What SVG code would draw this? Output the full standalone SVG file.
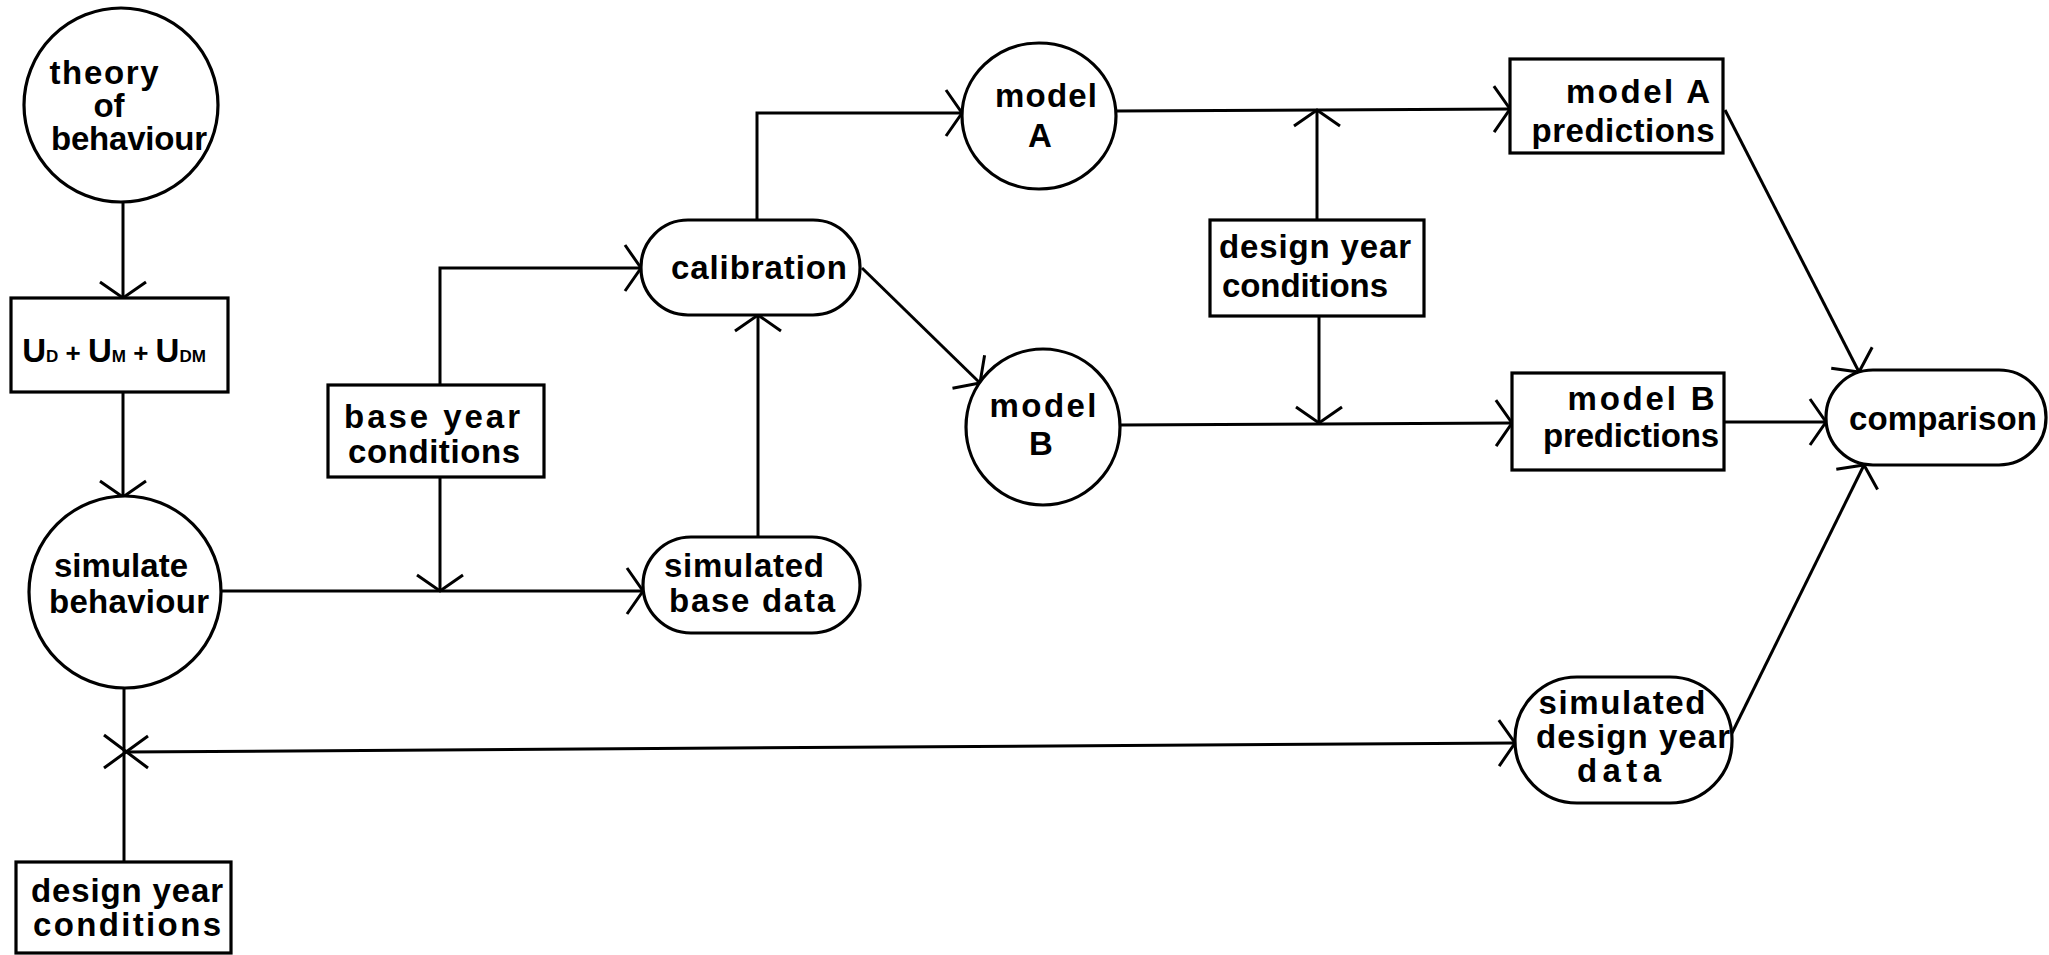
<svg xmlns="http://www.w3.org/2000/svg" width="2049" height="955" viewBox="0 0 2049 955">
<style>
.s{fill:#fff;stroke:#000;stroke-width:3.2}
.c{fill:none;stroke:#000;stroke-width:3}
.t{font-family:"Liberation Sans",Arial,sans-serif;font-size:33px;font-weight:bold;fill:#000;text-anchor:middle}
</style>
<defs>
<marker id="arr" markerUnits="userSpaceOnUse" orient="auto" viewBox="-30 -30 40 60" markerWidth="40" markerHeight="60" refX="0" refY="0">
<path d="M-16,-23 L0,0 L-16,23" fill="none" stroke="#000" stroke-width="3"/>
</marker>
</defs>
<rect width="2049" height="955" fill="#fff"/>
<g id="connectors" class="c">
<path d="M123,202 V298" marker-end="url(#arr)"/>
<path d="M123,392 V497" marker-end="url(#arr)"/>
<path d="M221,591 H643" marker-end="url(#arr)"/>
<path d="M440,477 V591" marker-end="url(#arr)"/>
<path d="M440,385 V268 H641" marker-end="url(#arr)"/>
<path d="M758,537 V315" marker-end="url(#arr)"/>
<path d="M757,220 V113 H962" marker-end="url(#arr)"/>
<path d="M862,268 L980,383" marker-end="url(#arr)"/>
<path d="M1116,111 L1510,109" marker-end="url(#arr)"/>
<path d="M1317,220 V110" marker-end="url(#arr)"/>
<path d="M1319,316 V423" marker-end="url(#arr)"/>
<path d="M1120,425 L1512,423" marker-end="url(#arr)"/>
<path d="M1725,110 L1859,372" marker-end="url(#arr)"/>
<path d="M1725,422 H1826" marker-end="url(#arr)"/>
<path d="M1732,733 L1864,465" marker-end="url(#arr)"/>
<path d="M124,688 V862"/>
<path d="M124,752 L1515,743" marker-end="url(#arr)"/>
<path d="M104,735 L148,768 M104,768 L148,736"/>
</g>
<g id="theory">
<ellipse class="s" cx="121" cy="105" rx="97" ry="97"/>
<text class="t" font-size="29" x="104" y="84" textLength="109">theory</text>
<text class="t" font-size="29" x="109" y="117">of</text>
<text class="t" font-size="29" x="129" y="150" textLength="156">behaviour</text>
</g>
<g id="utility">
<rect class="s" x="11" y="298" width="217" height="94"/>
<text class="t" x="114" y="362" font-size="32" font-weight="bold">U<tspan font-size="17">D</tspan><tspan font-size="26"> + </tspan>U<tspan font-size="17">M</tspan><tspan font-size="26"> + </tspan>U<tspan font-size="17">DM</tspan></text>
</g>
<g id="simulate">
<ellipse class="s" cx="125" cy="592" rx="96" ry="96"/>
<text class="t" font-size="30" x="121" y="577" textLength="134">simulate</text>
<text class="t" font-size="30" x="129" y="613" textLength="160">behaviour</text>
</g>
<g id="design-year-left">
<rect class="s" x="16" y="862" width="215" height="91"/>
<text class="t" font-size="29" x="127" y="902" textLength="192">design year</text>
<text class="t" font-size="29" x="127" y="936" textLength="188">conditions</text>
</g>
<g id="base-year">
<rect class="s" x="328" y="385" width="216" height="92"/>
<text class="t" font-size="30" x="432" y="428" textLength="176">base year</text>
<text class="t" font-size="30" x="434" y="463" textLength="172">conditions</text>
</g>
<g id="calibration">
<rect class="s" x="641" y="220" width="219" height="95" rx="47" ry="47"/>
<text class="t" font-size="35" x="759" y="279" textLength="176">calibration</text>
</g>
<g id="sim-base">
<rect class="s" x="643" y="537" width="217" height="96" rx="48" ry="48"/>
<text class="t" font-size="30" x="744" y="577" textLength="160">simulated</text>
<text class="t" font-size="30" x="752" y="612" textLength="166">base data</text>
</g>
<g id="modelA">
<ellipse class="s" cx="1039" cy="116" rx="77" ry="73"/>
<text class="t" x="1046" y="107" textLength="102">model</text>
<text class="t" x="1040" y="147">A</text>
</g>
<g id="modelB">
<ellipse class="s" cx="1043" cy="427" rx="77" ry="78"/>
<text class="t" x="1043" y="417" textLength="107">model</text>
<text class="t" x="1041" y="455">B</text>
</g>
<g id="design-year-mid">
<rect class="s" x="1210" y="220" width="214" height="96"/>
<text class="t" x="1315" y="258" textLength="192">design year</text>
<text class="t" x="1305" y="297" textLength="166">conditions</text>
</g>
<g id="predA">
<rect class="s" x="1510" y="59" width="213" height="94"/>
<text class="t" x="1638" y="103" textLength="144">model A</text>
<text class="t" x="1623" y="142" textLength="183">predictions</text>
</g>
<g id="predB">
<rect class="s" x="1512" y="373" width="212" height="97"/>
<text class="t" font-size="32" x="1641" y="410" textLength="147">model B</text>
<text class="t" font-size="32" x="1631" y="447" textLength="176">predictions</text>
</g>
<g id="comparison">
<rect class="s" x="1826" y="370" width="220" height="95" rx="47" ry="47"/>
<text class="t" font-size="35" x="1943" y="430" textLength="188">comparison</text>
</g>
<g id="sim-design">
<rect class="s" x="1515" y="677" width="217" height="126" rx="62" ry="62"/>
<text class="t" font-size="29" x="1622" y="714" textLength="167">simulated</text>
<text class="t" font-size="29" x="1633" y="748" textLength="194">design year</text>
<text class="t" font-size="29" x="1619" y="782" textLength="84">data</text>
</g>
</svg>
